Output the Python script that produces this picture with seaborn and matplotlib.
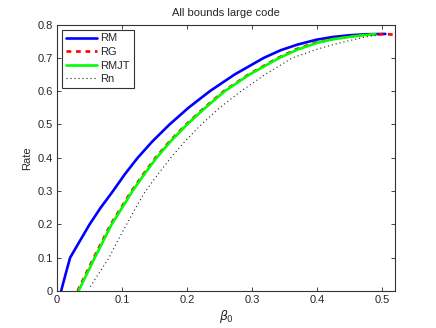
import numpy as np
import pandas as pd
import matplotlib
matplotlib.use('Agg')
import matplotlib.pyplot as plt
import seaborn as sns

# ==========================================
# data
# ==========================================
rm_x = [0.0062, 0.013, 0.020, 0.035, 0.050, 0.067, 0.086, 0.104, 0.124, 0.147, 0.173,
        0.202, 0.235, 0.273, 0.318, 0.344, 0.370, 0.400, 0.425, 0.450, 0.475, 0.505]
rm_y = [0.0, 0.05, 0.10, 0.15, 0.20, 0.25, 0.30, 0.35, 0.40, 0.45, 0.50,
        0.55, 0.60, 0.65, 0.70, 0.723, 0.740, 0.755, 0.763, 0.768, 0.771, 0.772]

rg_x = [0.0315, 0.044, 0.0565, 0.0695, 0.0825, 0.0985, 0.1145, 0.1325, 0.1515, 0.1735,
        0.1985, 0.2265, 0.2565, 0.2945, 0.340, 0.368, 0.398, 0.424, 0.45, 0.47, 0.49,
        0.505, 0.52]
rg_y = [0.0, 0.05, 0.10, 0.15, 0.20, 0.25, 0.30, 0.35, 0.40, 0.45,
        0.50, 0.55, 0.60, 0.65, 0.70, 0.726, 0.746, 0.757, 0.764, 0.769, 0.771,
        0.771, 0.770]

rmjt_x = [0.033, 0.0455, 0.058, 0.071, 0.084, 0.100, 0.116, 0.134, 0.153, 0.175,
          0.200, 0.228, 0.258, 0.296, 0.342, 0.370, 0.400, 0.425, 0.450, 0.470, 0.490]
rmjt_y = [0.0, 0.05, 0.10, 0.15, 0.20, 0.25, 0.30, 0.35, 0.40, 0.45,
          0.50, 0.55, 0.60, 0.65, 0.70, 0.725, 0.745, 0.756, 0.763, 0.768, 0.771]

rn_x = [0.051, 0.065, 0.080, 0.093, 0.107, 0.121, 0.136, 0.155, 0.175, 0.197,
        0.222, 0.250, 0.283, 0.320, 0.362, 0.400, 0.425, 0.450, 0.475, 0.500]
rn_y = [0.013, 0.055, 0.10, 0.15, 0.20, 0.25, 0.30, 0.35, 0.40, 0.45,
        0.50, 0.55, 0.60, 0.65, 0.70, 0.726, 0.740, 0.752, 0.763, 0.771]

x_ticks = [0, 0.1, 0.2, 0.3, 0.4, 0.5]
x_tick_labels = ['0', '0.1', '0.2', '0.3', '0.4', '0.5']
y_ticks = [0, 0.1, 0.2, 0.3, 0.4, 0.5, 0.6, 0.7, 0.8]
y_tick_labels = ['0', '0.1', '0.2', '0.3', '0.4', '0.5', '0.6', '0.7', '0.8']

# ==========================================
# style (matlab-ish look)
# ==========================================
sns.set_style('ticks')
plt.rcParams['font.family'] = ['Liberation Sans', 'DejaVu Sans']
plt.rcParams['mathtext.fontset'] = 'dejavusans'
plt.rcParams['font.size'] = 8

fig = plt.figure(figsize=(4.36, 3.28), dpi=100)
ax = fig.add_axes([0.131, 0.113, 0.775, 0.812])

series = [
    ('RM', rm_x, rm_y, dict(color='#0000ff', lw=1.9, ls='-')),
    ('RG', rg_x, rg_y, dict(color='#ff0000', lw=1.9, ls=(0, (1.8, 1.8)))),
    ('RMJT', rmjt_x, rmjt_y, dict(color='#00ff00', lw=1.9, ls='-')),
    ('Rn', rn_x, rn_y, dict(color='#222222', lw=0.8, ls=(0, (1, 2.6)))),
]

for name, xs, ys, kw in series:
    df = pd.DataFrame({'beta0': xs, 'rate': ys})
    sns.lineplot(data=df, x='beta0', y='rate', ax=ax, sort=False, estimator=None,
                 label=name, color=kw['color'], linewidth=kw['lw'], linestyle=kw['ls'])

ax.set_xlim(0, 0.52)
ax.set_ylim(0, 0.8)
ax.set_xticks(x_ticks)
ax.set_xticklabels(x_tick_labels)
ax.set_yticks(y_ticks)
ax.set_yticklabels(y_tick_labels)
ax.tick_params(direction='in', top=True, right=True, length=3, width=0.6, labelsize=8, pad=3)
for sp in ax.spines.values():
    sp.set_visible(True)
    sp.set_color('#333333')
    sp.set_linewidth(0.8)

ax.set_title('All bounds large code', fontsize=8, pad=6)
ax.set_xlabel(r'$\beta_0$', fontsize=9, labelpad=2)
ax.set_ylabel('Rate', fontsize=8, labelpad=4)

leg = ax.legend(loc='upper left', fontsize=8, fancybox=False, edgecolor='#333333',
                framealpha=1, handlelength=2.8, handletextpad=0.3, labelspacing=0.32,
                borderpad=0.35, borderaxespad=0.45)
leg.get_frame().set_linewidth(0.8)

fig.savefig('out.png', dpi=100)
